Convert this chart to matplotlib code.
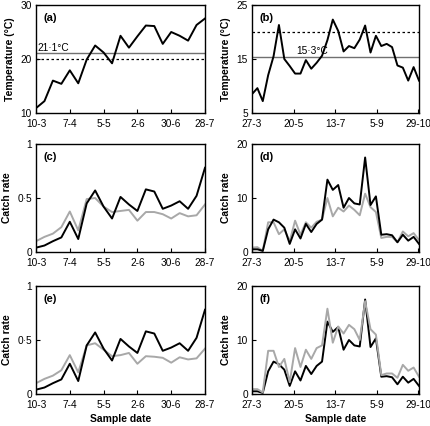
import matplotlib.pyplot as plt

plt.rcParams['font.family'] = ['Liberation Sans', 'DejaVu Sans']

# left column: weekly samples 10-3 .. 28-7
days_a = [7 * i for i in range(21)]
ticks_a = [0, 28, 56, 84, 112, 140]
labels_a = ['10-3', '7-4', '5-5', '2-6', '30-6', '28-7']
temp_a = [10.9, 12.2, 16.0, 15.4, 17.9, 15.5, 19.9, 22.5, 21.2, 19.2, 24.3,
          22.1, 24.2, 26.2, 26.1, 22.8, 25.0, 24.3, 23.4, 26.3, 27.5]
catch_a_black = [0.04, 0.06, 0.10, 0.135, 0.28, 0.12, 0.45, 0.57, 0.42, 0.31, 0.51,
                 0.44, 0.38, 0.58, 0.56, 0.40, 0.43, 0.47, 0.40, 0.52, 0.78]
catch_c_grey = [0.10, 0.14, 0.17, 0.23, 0.375, 0.20, 0.49, 0.50, 0.42, 0.37, 0.38,
                0.39, 0.29, 0.37, 0.37, 0.35, 0.31, 0.36, 0.33, 0.34, 0.44]
catch_e_grey = [0.10, 0.14, 0.17, 0.22, 0.36, 0.20, 0.45, 0.47, 0.41, 0.35, 0.36,
                0.38, 0.28, 0.35, 0.345, 0.335, 0.29, 0.34, 0.32, 0.33, 0.42]

# right column: weekly samples 27-3 .. 29-10
days_b = [7 * i for i in range(32)]
ticks_b = [0, 54, 108, 162, 216]
labels_b = ['27-3', '20-5', '13-7', '5-9', '29-10']
temp_b = [8.5, 9.6, 7.2, 12.0, 15.5, 21.3, 15.0, 13.7, 12.3, 12.3, 14.8, 13.2,
          14.3, 15.6, 18.5, 22.3, 20.2, 16.4, 17.4, 17.0, 18.6, 21.2, 16.2, 19.3,
          17.4, 17.8, 17.2, 13.8, 13.4, 11.0, 13.5, 11.0]
catch_b_black = [0.5, 0.5, 0.2, 4.2, 6.0, 5.5, 4.5, 1.5, 4.2, 2.5, 5.2, 3.7,
                 5.2, 6.0, 13.4, 11.5, 12.4, 8.2, 10.0, 9.0, 8.8, 17.5, 8.7, 10.3,
                 3.2, 3.3, 3.1, 1.8, 3.2, 2.1, 2.8, 1.5]
catch_d_grey = [0.8, 0.9, 0.2, 5.5, 5.5, 3.3, 4.2, 2.0, 5.8, 3.2, 5.5, 4.5,
                5.6, 6.0, 10.0, 6.6, 8.2, 7.5, 8.6, 7.8, 6.8, 10.8, 8.3, 7.4,
                2.6, 2.8, 2.8, 1.8, 3.8, 2.9, 3.5, 2.2]
catch_f_grey = [0.9, 0.9, 0.3, 8.0, 8.0, 5.0, 6.5, 2.2, 8.5, 5.0, 8.2, 6.5,
                8.5, 9.0, 15.8, 9.5, 12.5, 11.2, 12.8, 12.0, 10.0, 17.2, 12.0, 11.0,
                3.5, 3.8, 3.8, 3.0, 5.4, 4.3, 4.9, 3.2]

W, H = 431, 426
fig = plt.figure(figsize=(W / 100, H / 100), dpi=100)

cols = [(36, 205), (252, 419)]
rows = [(5, 113), (144, 252), (286, 394)]


def make_ax(r, c):
    x0, x1 = cols[c]
    y0, y1 = rows[r]
    return fig.add_axes([x0 / W, 1 - y1 / H, (x1 - x0) / W, (y1 - y0) / H])


def style(ax, letter, xticks, xlabels, xmax, ylim, yticks, ylabels, ylabel, xlabel=None):
    ax.set_xlim(0, xmax)
    ax.set_ylim(*ylim)
    ax.set_xticks(xticks)
    ax.set_xticklabels(xlabels)
    ax.set_yticks(yticks)
    ax.set_yticklabels(ylabels)
    ax.tick_params(direction='in', length=3, labelsize=7.3)
    ax.tick_params(axis='x', pad=4)
    ax.tick_params(axis='y', pad=3)
    ax.set_ylabel(ylabel, fontsize=7.5, fontweight='bold', labelpad=4)
    if xlabel:
        ax.set_xlabel(xlabel, fontsize=7.5, fontweight='bold', labelpad=3)
    for s in ax.spines.values():
        s.set_linewidth(1.0)
    ax.text(0.045, 0.93, letter, transform=ax.transAxes, fontsize=8,
            fontweight='bold', va='top')


grey = '#a8a8a8'

# (a)
ax = make_ax(0, 0)
ax.axhline(21.1, color='#707070', lw=1.0)
ax.axhline(20, color='black', lw=0.9, ls=(0, (2, 2)))
ax.plot(days_a, temp_a, color='black', lw=1.4)
ax.text(1.0, 21.4, '21·1°C', fontsize=7.3)
style(ax, '(a)', ticks_a, labels_a, 140, (10, 30), [10, 20, 30], ['10', '20', '30'],
      'Temperature (°C)')

# (b)
ax = make_ax(0, 1)
ax.axhline(15.3, color='#707070', lw=1.0)
ax.axhline(20, color='black', lw=0.9, ls=(0, (2, 2)))
ax.plot(days_b, temp_b, color='black', lw=1.4)
ax.text(57, 15.9, '15·3°C', fontsize=7.3)
style(ax, '(b)', ticks_b, labels_b, 217, (5, 25), [5, 15, 25], ['5', '15', '25'],
      'Temperature (°C)')

# (c) and (e)
for r, g, letter, xl in [(1, catch_c_grey, '(c)', None), (2, catch_e_grey, '(e)', 'Sample date')]:
    ax = make_ax(r, 0)
    ax.plot(days_a, g, color=grey, lw=1.4)
    ax.plot(days_a, catch_a_black, color='black', lw=1.4)
    style(ax, letter, ticks_a, labels_a, 140, (0, 1), [0, 0.5, 1], ['0', '0·5', '1'],
          'Catch rate', xl)

# (d) and (f)
for r, g, letter, xl in [(1, catch_d_grey, '(d)', None), (2, catch_f_grey, '(f)', 'Sample date')]:
    ax = make_ax(r, 1)
    if r == 1:
        ax.plot(days_b, g, color=grey, lw=1.4)
        ax.plot(days_b, catch_b_black, color='black', lw=1.4)
    else:
        ax.plot(days_b, catch_b_black, color='black', lw=1.4)
        ax.plot(days_b, g, color=grey, lw=1.4)
    style(ax, letter, ticks_b, labels_b, 217, (0, 20), [0, 10, 20], ['0', '10', '20'],
          'Catch rate', xl)

fig.savefig('out.png', dpi=100)
